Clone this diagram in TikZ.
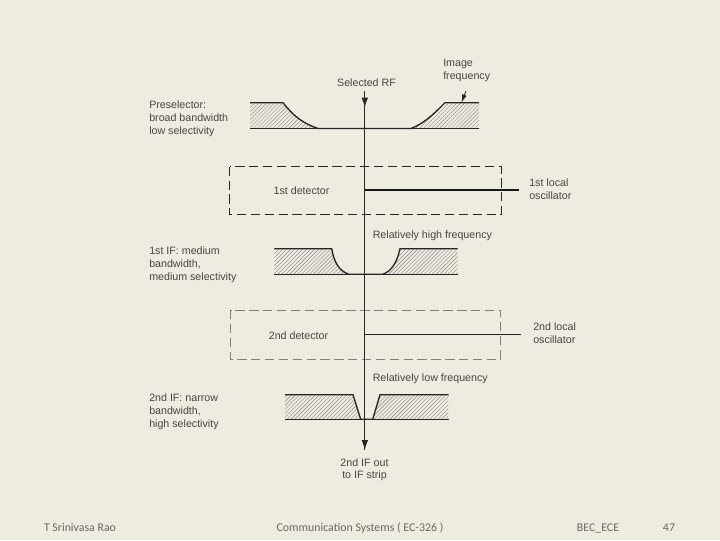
\documentclass[tikz,border=0pt]{standalone}
\usepackage{xcolor}
\usepackage{fontspec}
\setmainfont{Liberation Sans}
\newfontfamily\footfont{Carlito}
\usetikzlibrary{arrows.meta, positioning, patterns.meta}
\definecolor{slidebg}{RGB}{238,235,224}
\definecolor{inkgray}{RGB}{70,70,68}
\definecolor{footgray}{RGB}{105,105,100}

\begin{document}
\begin{tikzpicture}[
  x=0.75pt, y=-0.75pt,
  label/.style={inner sep=0pt, align=left, text=inkgray, font=\fontsize{8pt}{9.7pt}\selectfont},
  midlabel/.style={label, align=center},
  foot/.style={inner sep=0pt, anchor=base, text=footgray, font=\footfont\fontsize{8.9pt}{10pt}\selectfont},
  arrow/.style={-{Latex[length=7.5pt,width=5pt]}, line width=0.8pt, black!85},
  dashbox/.style={dash pattern=on 7pt off 3.4pt, line width=0.75pt},
  band/.style={line width=1pt, black!85},
  hatch/.style={pattern={Lines[angle=45, distance=2.1pt, line width=0.3pt]}, pattern color=black!50}
]
\useasboundingbox[fill=slidebg] (0,0) rectangle (720,540);

\fill[hatch] (250,102.7) -- (283,102.7) .. controls (295,118) and (305,124) .. (318,128.5) -- (250,128.5) -- cycle;
\fill[hatch] (479,102.7) -- (445,102.7) .. controls (433,115) and (423,124) .. (411,128.5) -- (479,128.5) -- cycle;
\draw[band] (250,102.7) -- (283,102.7) .. controls (295,118) and (305,124) .. (318,128.5) -- (411,128.5) .. controls (423,124) and (433,115) .. (445,102.7) -- (479,102.7);
\draw[line width=0.7pt, black!85] (250,128.5) -- (479,128.5);

\fill[hatch] (274.3,248.7) -- (331.7,248.7) .. controls (334,262) and (339,271) .. (349,274.3) -- (274.3,274.3) -- cycle;
\fill[hatch] (457.7,248.7) -- (400,248.7) .. controls (397,262) and (392,271) .. (382.7,274.3) -- (457.7,274.3) -- cycle;
\draw[band] (274.3,248.7) -- (331.7,248.7) .. controls (334,262) and (339,271) .. (349,274.3) -- (382.7,274.3) .. controls (392,271) and (397,262) .. (400,248.7) -- (457.7,248.7);
\draw[line width=0.7pt, black!85] (274.3,274.3) -- (457.7,274.3);

\fill[hatch] (285,394.7) -- (353,394.7) -- (360.7,419.3) -- (285,419.3) -- cycle;
\fill[hatch] (448.7,394.7) -- (380,394.7) -- (372.7,419.3) -- (448.7,419.3) -- cycle;
\draw[band] (285,394.7) -- (353,394.7) -- (360.7,419.3) -- (372.7,419.3) -- (380,394.7) -- (448.7,394.7);
\draw[line width=0.7pt, black!85] (285,419.3) -- (448.7,419.3);

\draw[dashbox, black!85] (229.5,166.7) rectangle (501,214.7);
\draw[dashbox, black!50] (230.7,310) rectangle (500.7,359);

\node[midlabel, anchor=base] (selrf) at (366.5,86) {Selected RF};
\node[label, anchor=north west] (image) at (443,58.5) {Image\\frequency};
\node[label, anchor=north west] (presel) at (149,100.4) {Preselector:\\broad bandwidth\\low selectivity};
\node[midlabel] (det1) at (301.5,191) {1st detector};
\node[label, anchor=north west] (lo1) at (529,178.5) {1st local\\oscillator};
\node[label, anchor=base west] (relhigh) at (372.5,238) {Relatively high frequency};
\node[label, anchor=north west] (if1) at (149,246.5) {1st IF: medium\\bandwidth,\\medium selectivity};
\node[midlabel] (det2) at (298.5,335.5) {2nd detector};
\node[label, anchor=north west] (lo2) at (533,322.5) {2nd local\\oscillator};
\node[label, anchor=base west] (rellow) at (372.5,381) {Relatively low frequency};
\node[label, anchor=north west] (if2) at (149,393.5) {2nd IF: narrow\\bandwidth,\\high selectivity};
\node[midlabel, anchor=north] (ifout) at (364.5,458) {2nd IF out\\to IF strip};

\coordinate (rfin) at (364.8,91);
\coordinate (rfout) at (364.8,450);
\coordinate (mix1) at (364.8,190);
\coordinate (lo1end) at (519,190);
\coordinate (mix2) at (364.8,334);
\coordinate (lo2end) at (520.7,334);
\coordinate (imgtail) at (466,91);
\coordinate (imgtip) at (461.5,102.5);

\draw[line width=0.8pt, black!85] (rfin) -- (rfout);
\draw[arrow] (rfin) -- (364.8,107.5);
\draw[arrow] (364.8,430) -- (rfout);
\draw[-{Latex[length=6pt,width=3.6pt]}, line width=0.6pt, black!85] (imgtail) -- (imgtip);
\draw[line width=1.3pt, black!90] (mix1) -- (lo1end);
\draw[line width=0.7pt, black!85] (mix2) -- (lo2end);

\node[foot] (author) at (80,531) {T Srinivasa Rao};
\node[foot] (course) at (360,531) {Communication Systems ( EC-326 )};
\node[foot] (dept) at (598,531) {BEC\_ECE};
\node[foot] (page) at (669,531) {47};
\end{tikzpicture}
\end{document}
